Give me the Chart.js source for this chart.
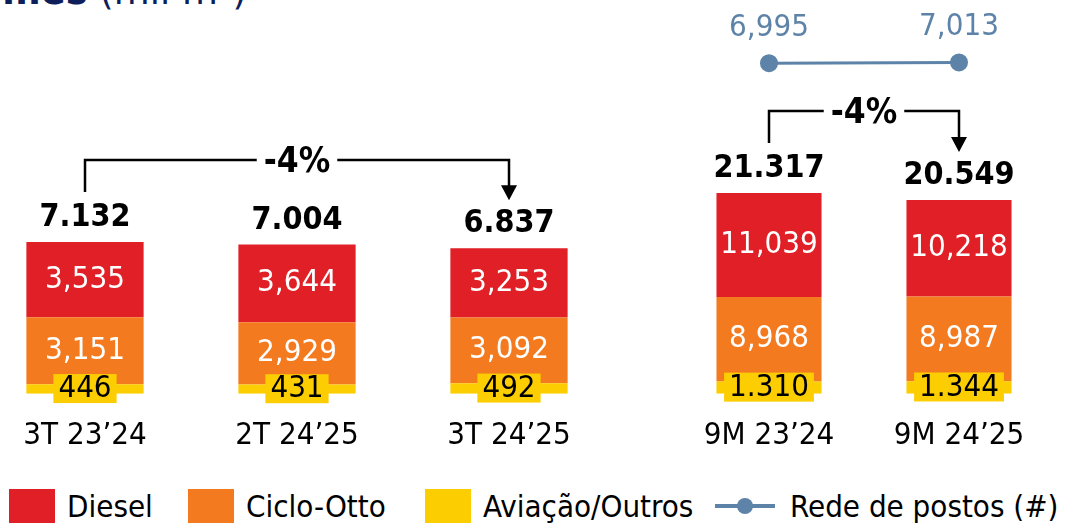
<!DOCTYPE html>
<html>
<head>
<meta charset="utf-8">
<script src="https://cdn.jsdelivr.net/npm/chart.js@4"></script>
<style>
  html, body { margin: 0; padding: 0; background: #fff; }
  #wrap { position: relative; width: 1069px; height: 524px; overflow: hidden; background: #fff;
    font-family: "DejaVu Sans Condensed", "DejaVu Sans", sans-serif; }
  #title { position: absolute; right: 822px; top: -30px; font-size: 41px; line-height: 40px;
    color: #0d1e5b; white-space: nowrap; }
  #title b { font-weight: bold; }
  .box { position: absolute; top: 0; }
  #legend { position: absolute; left: 0; top: 488px; width: 1069px; height: 36px;
    font-size: 31px; color: #000; white-space: nowrap; }
  .item { position: absolute; top: 0; display: flex; align-items: center; }
  .sw { width: 46px; height: 34px; margin-right: 12px; }
  .lineIcon { position: relative; width: 60px; height: 34px; margin-right: 15px; }
  .lineIcon .ln { position: absolute; left: 0; right: 0; top: 15px; height: 4px; }
  .lineIcon .dot { position: absolute; left: 22px; top: 9px; width: 16px; height: 16px; border-radius: 50%; }
</style>
</head>
<body>
<div id="wrap">
  <div id="title"><b>Volumes</b> (mil m³)</div>
  <div class="box" style="left:-21px"><canvas id="leftChart" width="636" height="479"></canvas></div>
  <div class="box" style="left:674px"><canvas id="rightChart" width="380" height="479"></canvas></div>
  <div id="legend"></div>
</div>
<script>
// quarterly bars
const categoriesQ = ['3T 23’24', '2T 24’25', '3T 24’25'];
const dieselQ = [3535, 3644, 3253];
const cicloQ = [3151, 2929, 3092];
const aviacaoQ = [446, 431, 492];

// nine-month bars
const categories9M = ['9M 23’24', '9M 24’25'];
const diesel9M = [11039, 10218];
const ciclo9M = [8968, 8987];
const aviacao9M = [1310, 1344];

// station network
const redePostos = [6995, 7013];

const RED = '#e11f26';
const ORANGE = '#f47a20';
const YELLOW = '#fccd00';
const STEEL = '#5e83a8';
const FONT = '"DejaVu Sans Condensed", "DejaVu Sans", sans-serif';

Chart.defaults.font.family = FONT;

function fmt(v, sep) {
  return String(v).replace(/\B(?=(\d{3})+(?!\d))/g, sep);
}

// draws segment values, totals, line values and the -x% bracket
const labelPlugin = {
  id: 'labels',
  afterDatasetsDraw(chart, args, opts) {
    const ctx = chart.ctx;
    const bars = [];
    ctx.save();
    ctx.textAlign = 'center';
    ctx.textBaseline = 'middle';
    chart.data.datasets.forEach((ds, di) => {
      const meta = chart.getDatasetMeta(di);
      if (meta.type === 'line') {
        ctx.font = '31px ' + FONT;
        ctx.fillStyle = STEEL;
        meta.data.forEach((el, i) => ctx.fillText(fmt(ds.data[i], ','), el.x, el.y - 35));
        return;
      }
      bars.push(meta);
      meta.data.forEach((el, i) => {
        const v = ds.data[i];
        const cy = (el.y + el.base) / 2;
        ctx.font = '31px ' + FONT;
        if (ds.boxLabel) {
          const txt = fmt(v, '.');
          const w = ctx.measureText(txt).width + 10;
          ctx.fillStyle = YELLOW;
          ctx.fillRect(el.x - w / 2, cy - 15, w, 29);
          ctx.fillStyle = '#000';
          ctx.fillText(txt, el.x, cy);
        } else {
          ctx.fillStyle = '#fff';
          ctx.fillText(fmt(v, ','), el.x, cy);
        }
      });
    });

    // totals above each stack
    const top = bars[bars.length - 1];
    const totals = top.data.map((el, i) =>
      chart.data.datasets.filter(d => d.type !== 'line').reduce((s, d) => s + d.data[i], 0));
    ctx.font = 'bold 32px ' + FONT;
    ctx.fillStyle = '#000';
    top.data.forEach((el, i) => ctx.fillText(fmt(totals[i], '.'), el.x, el.y - 24));

    // change bracket
    const b = opts.bracket;
    if (b) {
      const e1 = top.data[b.from], e2 = top.data[b.to];
      const lineY = e1.y - 82;
      const startY = e1.y - 50;
      const tipY = e2.y - 48;
      const midX = (e1.x + e2.x) / 2;
      const pct = Math.round((totals[b.to] / totals[b.from] - 1) * 100) + '%';
      ctx.font = 'bold 35px ' + FONT;
      const gap = ctx.measureText(pct).width / 2 + 7;
      ctx.strokeStyle = '#000';
      ctx.lineWidth = 2.5;
      ctx.beginPath();
      ctx.moveTo(e1.x, startY);
      ctx.lineTo(e1.x, lineY);
      ctx.lineTo(midX - gap, lineY);
      ctx.moveTo(midX + gap, lineY);
      ctx.lineTo(e2.x, lineY);
      ctx.lineTo(e2.x, tipY - 14);
      ctx.stroke();
      ctx.beginPath();
      ctx.moveTo(e2.x - 8, tipY - 15);
      ctx.lineTo(e2.x + 8, tipY - 15);
      ctx.lineTo(e2.x, tipY);
      ctx.closePath();
      ctx.fill();
      ctx.fillText(pct, midX, lineY + 3);
    }
    ctx.restore();
  }
};

function barSet(label, data, color, extra) {
  return Object.assign({
    label, data, backgroundColor: color, stack: 's',
    barPercentage: 1, categoryPercentage: 0.553, yAxisID: 'y'
  }, extra || {});
}

function baseOptions(yMax, bracket) {
  return {
    responsive: false,
    animation: false,
    layout: { autoPadding: false, padding: { top: 0, bottom: 0, left: 0, right: 0 } },
    plugins: { legend: { display: false }, tooltip: { enabled: false }, labels: { bracket } },
    scales: {
      x: {
        stacked: true,
        grid: { display: false, drawTicks: false },
        border: { display: false },
        ticks: { color: '#000', font: { size: 31 }, padding: 24 }
      },
      y: { stacked: true, display: false, min: 0, max: yMax }
    }
  };
}

new Chart(document.getElementById('leftChart'), {
  type: 'bar',
  data: {
    labels: categoriesQ,
    datasets: [
      barSet('Aviação/Outros', aviacaoQ, YELLOW, { boxLabel: true }),
      barSet('Ciclo-Otto', cicloQ, ORANGE),
      barSet('Diesel', dieselQ, RED)
    ]
  },
  options: baseOptions(18489, { from: 0, to: 2 }),
  plugins: [labelPlugin]
});

const rightOptions = baseOptions(41782, { from: 0, to: 1 });
rightOptions.scales.yLine = { display: false, min: 0, max: 8333 };

new Chart(document.getElementById('rightChart'), {
  type: 'bar',
  data: {
    labels: categories9M,
    datasets: [
      barSet('Aviação/Outros', aviacao9M, YELLOW, { boxLabel: true }),
      barSet('Ciclo-Otto', ciclo9M, ORANGE),
      barSet('Diesel', diesel9M, RED),
      {
        type: 'line', label: 'Rede de postos (#)', data: redePostos, yAxisID: 'yLine',
        borderColor: STEEL, backgroundColor: STEEL, borderWidth: 3,
        pointRadius: 9, pointBorderWidth: 0
      }
    ]
  },
  options: rightOptions,
  plugins: [labelPlugin]
});

// legend shared by both charts
const legendItems = [
  { name: 'Diesel', color: RED, left: 9 },
  { name: 'Ciclo-Otto', color: ORANGE, left: 188 },
  { name: 'Aviação/Outros', color: YELLOW, left: 425 },
  { name: 'Rede de postos (#)', color: STEEL, left: 715, line: true }
];
const legend = document.getElementById('legend');
legendItems.forEach(it => {
  const item = document.createElement('div');
  item.className = 'item';
  item.style.left = it.left + 'px';
  if (it.line) {
    item.innerHTML = `<div class="lineIcon"><div class="ln" style="background:${it.color}"></div>` +
      `<div class="dot" style="background:${it.color}"></div></div><span>${it.name}</span>`;
  } else {
    item.innerHTML = `<div class="sw" style="background:${it.color}"></div><span>${it.name}</span>`;
  }
  legend.appendChild(item);
});
</script>
</body>
</html>
